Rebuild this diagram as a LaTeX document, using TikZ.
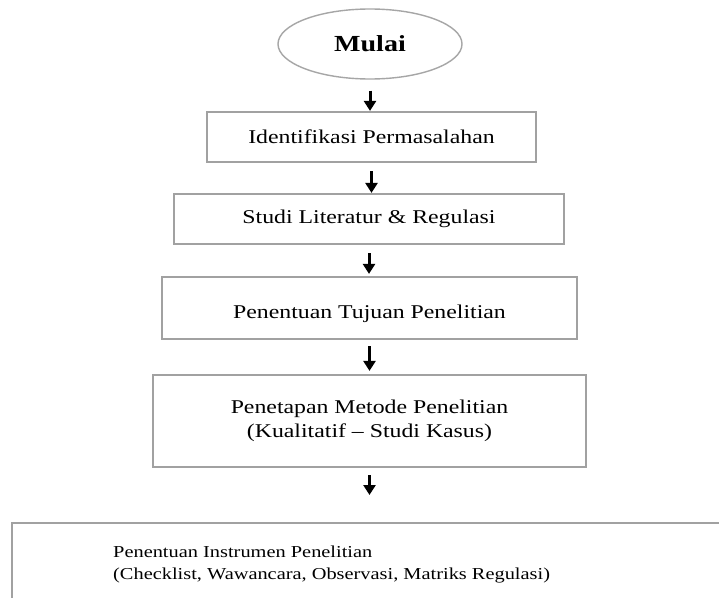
\documentclass[tikz,border=0pt]{standalone}
\usepackage{fontspec}
\setmainfont{Liberation Serif}[FakeStretch=1.22]
\usetikzlibrary{shapes.geometric,arrows.meta}
\begin{document}
\begin{tikzpicture}[x=1pt,y=-1pt,
  box/.style={draw=black!37, line width=2.2pt, rectangle, inner sep=2pt, font=\fontsize{19.5}{24}\selectfont, align=center},
  startnode/.style={draw=black!35, line width=1.4pt, ellipse, inner sep=0pt, minimum width=184pt, minimum height=70pt, font=\fontsize{23}{27}\selectfont\bfseries},
  arr/.style={line width=3pt, -{Triangle[width=12pt,length=10pt]}}
]
\clip (0,0) rectangle (719,597);
\fill[white] (0,0) rectangle (719,597);

\node[startnode] (s) at (370,44) {Mulai};
\node[box, minimum width=329pt, minimum height=50pt] (b1) at (371.5,137) {Identifikasi Permasalahan};
\node[box, minimum width=390pt, minimum height=50pt] (b2) at (369,219) {Studi Literatur \& Regulasi};
\node[box, minimum width=415pt, minimum height=62pt, text height=20pt, text depth=0pt] (b3) at (369.5,308) {Penentuan Tujuan Penelitian};
\node[box, minimum width=433pt, minimum height=92pt] (b4) at (369.5,421) {Penetapan Metode Penelitian\\(Kualitatif -- Studi Kasus)};
\node[box, anchor=north west, minimum width=800pt, minimum height=200pt] (b5) at (11,522) {};
\node[anchor=north west, inner sep=0pt, align=left, font=\fontsize{16.7}{22}\selectfont] (t5) at (113,545.6) {Penentuan Instrumen Penelitian\\(Checklist, Wawancara, Observasi, Matriks Regulasi)};

\draw[arr, shorten <=11pt] (s.south) -- (s.south |- b1.north);
\draw[arr, shorten <=8pt] (b1.south) -- (b1.south |- b2.north);
\draw[arr, shorten <=8pt, shorten >=2pt] (b2.south) -- (b2.south |- b3.north);
\draw[arr, shorten <=6pt, shorten >=3pt] (b3.south) -- (b3.south |- b4.north);
\draw[arr, shorten <=7pt, shorten >=27pt] (b4.south) -- (b4.south |- b5.north);
\end{tikzpicture}
\end{document}
